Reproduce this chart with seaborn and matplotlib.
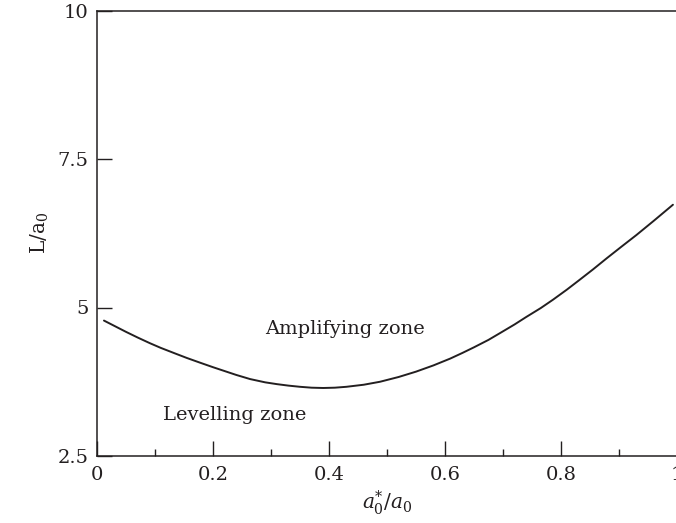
import matplotlib
matplotlib.use("Agg")
import matplotlib.pyplot as plt
import seaborn as sns
import pandas as pd
from matplotlib.ticker import MultipleLocator

# data
ratio = [0.012, 0.03, 0.05, 0.07, 0.091, 0.11, 0.135, 0.155, 0.178, 0.2,
         0.22, 0.24, 0.264, 0.29, 0.31, 0.33, 0.35, 0.37, 0.39, 0.41,
         0.43, 0.46, 0.488, 0.52, 0.55, 0.58, 0.609, 0.63, 0.65, 0.675,
         0.695, 0.72, 0.74, 0.765, 0.786, 0.81, 0.83, 0.855, 0.879, 0.905,
         0.93, 0.96, 0.993]
length = [4.78, 4.69, 4.59, 4.495, 4.40, 4.32, 4.225, 4.15, 4.07, 3.995,
          3.93, 3.865, 3.795, 3.74, 3.71, 3.685, 3.665, 3.65, 3.645, 3.65,
          3.665, 3.70, 3.75, 3.83, 3.92, 4.025, 4.14, 4.235, 4.33, 4.455,
          4.57, 4.715, 4.84, 4.99, 5.13, 5.30, 5.45, 5.64, 5.83, 6.03,
          6.22, 6.46, 6.73]
x_ticks = [0, 0.2, 0.4, 0.6, 0.8, 1]
x_tick_labels = ["0", "0.2", "0.4", "0.6", "0.8", "1"]
y_ticks = [2.5, 5, 7.5, 10]
y_tick_labels = ["2.5", "5", "7.5", "10"]

sns.set_theme(style="ticks")
plt.rcParams["font.family"] = ["DejaVu Serif"]
plt.rcParams["mathtext.fontset"] = "dejavuserif"

ink = "#231f20"
fig = plt.figure(figsize=(6.76, 5.23), dpi=100)
ax = fig.add_axes([97 / 676, 67 / 523, 580 / 676, 445.5 / 523])

df = pd.DataFrame({"ratio": ratio, "length": length})
sns.lineplot(data=df, x="ratio", y="length", ax=ax, color=ink, linewidth=1.4)

ax.set_xlim(0, 1)
ax.set_ylim(2.5, 10)
ax.set_xticks(x_ticks)
ax.set_xticklabels(x_tick_labels)
ax.xaxis.set_minor_locator(MultipleLocator(0.1))
ax.set_yticks(y_ticks)
ax.set_yticklabels(y_tick_labels)

ax.tick_params(axis="both", which="major", direction="in", length=11,
               width=1.0, color=ink, labelcolor=ink, labelsize=14)
ax.tick_params(axis="x", which="major", pad=7)
ax.tick_params(axis="y", which="major", pad=6)
ax.tick_params(axis="x", which="minor", direction="in", length=5,
               width=1.0, color=ink)

for side in ["left", "bottom", "top"]:
    ax.spines[side].set_color(ink)
    ax.spines[side].set_linewidth(1.1)
ax.spines["right"].set_visible(False)

ax.set_xlabel(r"$a_0^{*}/a_0$", fontsize=14.5, color=ink, labelpad=3)
ax.set_ylabel(r"L/a$_0$", fontsize=14.5, color=ink, labelpad=5)

ax.text(0.29, 4.64, "Amplifying zone", fontsize=14, color=ink,
        ha="left", va="center")
ax.text(0.114, 3.19, "Levelling zone", fontsize=14, color=ink,
        ha="left", va="center")

fig.savefig("out.png", dpi=100)
